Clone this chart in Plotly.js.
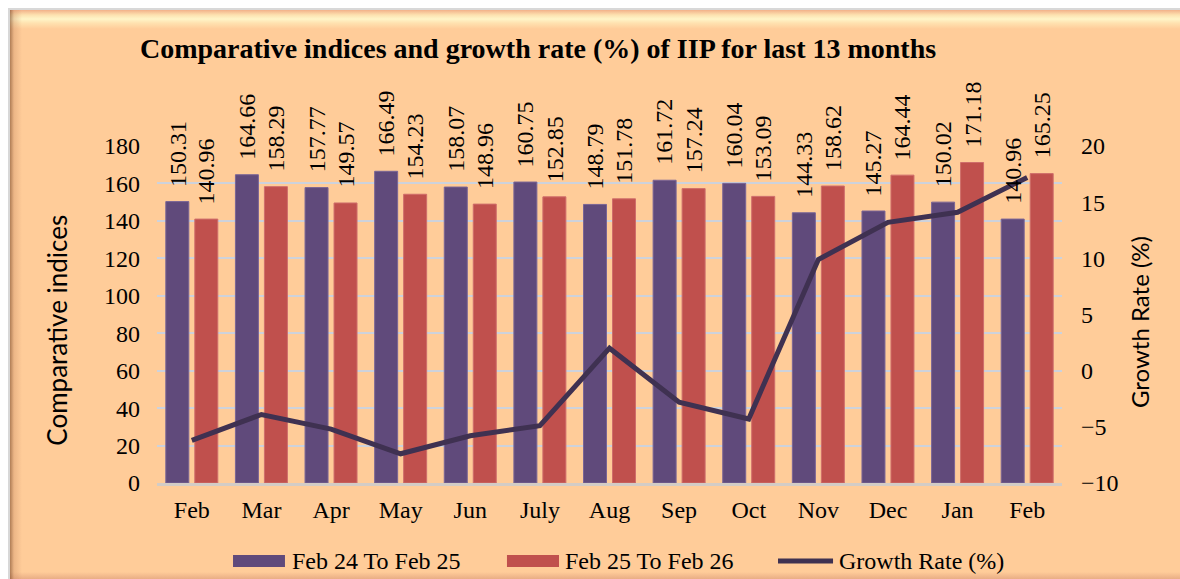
<!DOCTYPE html>
<html>
<head>
<meta charset="utf-8">
<script src="https://cdn.plot.ly/plotly-3.0.1.min.js"></script>
<style>
  html, body { margin: 0; padding: 0; background: #ffffff; width: 1180px; height: 579px; overflow: hidden; }
  #frame {
    position: absolute; left: 8px; top: 8px; width: 1172px; height: 571px;
    box-sizing: border-box;
    border-top: 2px solid #d8d8d8; border-left: 2px solid #d8d8d8;
    background:
      linear-gradient(to right, rgba(110,60,30,0.55) 0px, rgba(200,140,100,0.35) 4px, rgba(255,204,153,0) 12px) left top / 12px 100% no-repeat,
      linear-gradient(to bottom, #f2b189 0px, #fde2b0 5px, #fff5c8 9px, #ffe2b0 13px, #ffcc99 19px) left top / 100% 19px no-repeat,
      linear-gradient(to top, #e9ad85 0px, #ffcc99 7px) left bottom / 100% 7px no-repeat,
      #ffcc99;
  }
  #chart { position: absolute; left: 0; top: 0; width: 1180px; height: 579px; }
</style>
</head>
<body>
<div id="frame"></div>
<div id="chart"></div>
<script>
const months = ["Feb","Mar","Apr","May","Jun","July","Aug","Sep","Oct","Nov","Dec","Jan","Feb"];
const series1Name = "Feb 24 To Feb 25";
const series2Name = "Feb 25 To Feb 26";
const series3Name = "Growth Rate (%)";
const indexPrev = [150.31,164.66,157.77,166.49,158.07,160.75,148.79,161.72,160.04,144.33,145.27,150.02,140.96];
const indexCurr = [140.96,158.29,149.57,154.23,148.96,152.85,151.78,157.24,153.09,158.62,164.44,171.18,165.25];
const growthRate = [-6.2,-3.9,-5.2,-7.4,-5.8,-4.9,2.0,-2.8,-4.3,9.9,13.2,14.1,17.2];

const xs = months.map((m, i) => i);
const serif = "Liberation Serif, Times New Roman, serif";
const sans = "Lato, Carlito, Calibri, sans-serif";
const purple = "#604A7B", red = "#C0504D", lineCol = "#3F3151";

const traces = [
  { type: "bar", x: xs, y: indexPrev, name: series1Name, marker: { color: purple, line: { color: "#7a6596", width: 1 } }, hoverinfo: "y" },
  { type: "bar", x: xs, y: indexCurr, name: series2Name, marker: { color: red, line: { color: "#cf6e6b", width: 1 } }, hoverinfo: "y" },
  { type: "scatter", mode: "lines", x: xs, y: growthRate, name: series3Name, yaxis: "y2", line: { color: lineCol, width: 5 }, hoverinfo: "y" }
];

const labelFont = { family: serif, size: 24, color: "#000" };
const annotations = [];
indexPrev.forEach((v, i) => annotations.push({ x: i, y: v, xref: "x", yref: "y", text: v.toFixed(2), showarrow: false, textangle: -90, xanchor: "center", yanchor: "bottom", xshift: -14.5, yshift: 13, font: labelFont }));
indexCurr.forEach((v, i) => annotations.push({ x: i, y: v, xref: "x", yref: "y", text: v.toFixed(2), showarrow: false, textangle: -90, xanchor: "center", yanchor: "bottom", xshift: 14.5, yshift: 13, font: labelFont }));

// axis titles
annotations.push({ xref: "paper", yref: "paper", x: -0.1105, y: 0.455, text: "Comparative indices", textangle: -90, showarrow: false, xanchor: "center", yanchor: "middle", font: { family: sans, size: 26, color: "#000" } });
annotations.push({ xref: "paper", yref: "paper", x: 1.0856, y: 0.479, text: "Growth Rate (%)", textangle: -90, showarrow: false, xanchor: "center", yanchor: "middle", font: { family: sans, size: 24, color: "#000" } });

// custom legend labels
const legY = -0.2315;
const legFont = { family: serif, size: 24, color: "#000" };
annotations.push({ xref: "paper", yref: "paper", x: 0.147, y: legY, text: series1Name, showarrow: false, xanchor: "left", yanchor: "middle", font: legFont });
annotations.push({ xref: "paper", yref: "paper", x: 0.4486, y: legY, text: series2Name, showarrow: false, xanchor: "left", yanchor: "middle", font: legFont });
annotations.push({ xref: "paper", yref: "paper", x: 0.7514, y: legY, text: series3Name, showarrow: false, xanchor: "left", yanchor: "middle", font: legFont });

const shapes = [
  { type: "rect", xref: "paper", yref: "paper", x0: 0.0840, x1: 0.1414, y0: -0.2136, y1: -0.2493, fillcolor: purple, line: { width: 0 } },
  { type: "rect", xref: "paper", yref: "paper", x0: 0.3867, x1: 0.4442, y0: -0.2136, y1: -0.2493, fillcolor: red, line: { width: 0 } },
  { type: "line", xref: "paper", yref: "paper", x0: 0.6862, x1: 0.7470, y0: legY, y1: legY, line: { color: lineCol, width: 5 } }
];

const tickFont = { family: serif, size: 24, color: "#000" };
const layout = {
  width: 1180, height: 579,
  paper_bgcolor: "rgba(0,0,0,0)", plot_bgcolor: "rgba(0,0,0,0)",
  margin: { l: 157, r: 118, t: 146, b: 96 },
  showlegend: false,
  barmode: "group", bargap: 0.167, bargroupgap: 0.207,
  title: { text: "Comparative indices and growth rate (%) of IIP for last 13 months", x: 0.456, xanchor: "center", y: 0.917, yref: "container", yanchor: "middle", font: { family: serif, size: 28, color: "#000", weight: "bold" } },
  xaxis: { range: [-0.5, 12.5], tickvals: xs, ticktext: months, showgrid: false, zeroline: false, showline: true, linecolor: "#d3ccc6", linewidth: 3, ticks: "", ticklabelstandoff: 3, tickfont: tickFont, fixedrange: true },
  yaxis: { range: [0, 180], dtick: 20, tick0: 0, showgrid: true, gridcolor: "#cdd2dc", gridwidth: 2, zeroline: false, showline: false, ticks: "", ticklabelstandoff: 16, tickfont: tickFont, fixedrange: true },
  yaxis2: { overlaying: "y", side: "right", range: [-10, 20], dtick: 5, tick0: -10, showgrid: false, zeroline: false, showline: false, ticks: "", ticklabelstandoff: 18, tickfont: tickFont, fixedrange: true },
  annotations: annotations,
  shapes: shapes
};

Plotly.newPlot("chart", traces, layout, { displayModeBar: false, staticPlot: true });
</script>
</body>
</html>
